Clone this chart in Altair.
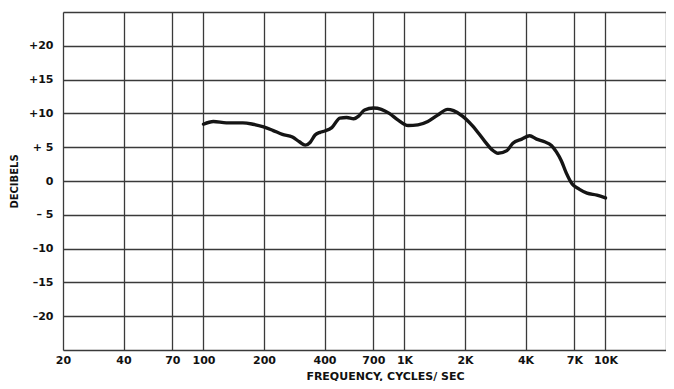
import altair as alt
import pandas as pd

# Response curve
freq = [100, 112, 130, 157, 176, 199, 221, 247, 277, 300, 321, 339, 359, 380, 402,
        435, 477, 516, 559, 591, 633, 701, 767, 840, 930, 1042, 1166, 1307, 1463,
        1638, 1754, 1942, 2175, 2520, 2729, 2920, 3234, 3461, 3832, 4195, 4542,
        4973, 5382, 5697, 6028, 6378, 6828, 7392, 8093, 9064, 10000]
db = [8.4, 8.8, 8.6, 8.6, 8.4, 8.0, 7.5, 6.9, 6.5, 5.8, 5.3, 5.7, 6.8, 7.2, 7.4,
      7.9, 9.3, 9.4, 9.2, 9.6, 10.5, 10.8, 10.6, 10.0, 9.0, 8.2, 8.3, 8.8, 9.75,
      10.6, 10.4, 9.6, 8.2, 5.8, 4.6, 4.1, 4.5, 5.6, 6.2, 6.7, 6.2,
      5.8, 5.25, 4.3, 3.0, 1.2, -0.45, -1.2, -1.8, -2.1, -2.5]

x_ticks = [20, 40, 70, 100, 200, 400, 700, 1000, 2000, 4000, 7000, 10000, 20000]
x_labels = ["20", "40", "70", "100", "200", "400", "700", "1K", "2K", "4K", "7K", "10K", ""]
y_ticks = [-25, -20, -15, -10, -5, 0, 5, 10, 15, 20, 25]
y_labels = ["", "\u201320", "\u201315", "\u201310", "\u2013 5", "0\u2002", "+ 5", "+10", "+15", "+20", ""]

df = pd.DataFrame({"freq": freq, "db": db})

def label_expr(vals, labs):
    parts = [f"datum.value == {v} ? '{l}'" for v, l in zip(vals, labs)]
    return " : ".join(parts) + " : ''"

GRID = "#3a3a3a"
FONT = "DejaVu Sans"
W, H = 603, 338

chart = alt.Chart(df).mark_line(
    interpolate="monotone", strokeWidth=3.4, color="#151515", strokeCap="round", strokeJoin="round"
).encode(
    x=alt.X("freq:Q",
            scale=alt.Scale(type="log", domain=[20, 20000], nice=False),
            axis=alt.Axis(values=x_ticks, labelExpr=label_expr(x_ticks, x_labels),
                          grid=True, gridColor=GRID, gridWidth=1.3, gridOpacity=1,
                          domain=False, ticks=False, labelPadding=4,
                          labelFont=FONT, labelFontSize=11, labelFontWeight="bold",
                          labelColor="#111", labelFlush=False, labelOverlap=False,
                          title="FREQUENCY,  CYCLES/ SEC", titleFont=FONT, titleFontSize=11,
                          titleFontWeight="bold", titleColor="#111",
                          titleX=322, titleY=26, titleBaseline="middle", titleAlign="center")),
    y=alt.Y("db:Q",
            scale=alt.Scale(domain=[-25, 25], nice=False, zero=False),
            axis=alt.Axis(values=y_ticks, labelExpr=label_expr(y_ticks, y_labels),
                          grid=True, gridColor=GRID, gridWidth=1.3, gridOpacity=1,
                          domain=False, ticks=False, labelPadding=10,
                          labelFont=FONT, labelFontSize=11, labelFontWeight="bold",
                          labelColor="#111", labelFlush=False, labelOverlap=False,
                          title="DECIBELS", titleFont=FONT, titleFontSize=10,
                          titleFontWeight="bold", titleColor="#111",
                          titleX=-49, titleY=H / 2, titleAngle=270,
                          titleBaseline="middle", titleAlign="center")),
).properties(
    width=W, height=H,
    autosize=alt.AutoSizeParams(type="none"),
    padding={"left": 55, "top": 4, "right": 0, "bottom": 31},
).configure_view(stroke=GRID, strokeWidth=1.3).configure(background="white")

chart.save("out.html", embed_options={"renderer": "svg", "actions": False})
